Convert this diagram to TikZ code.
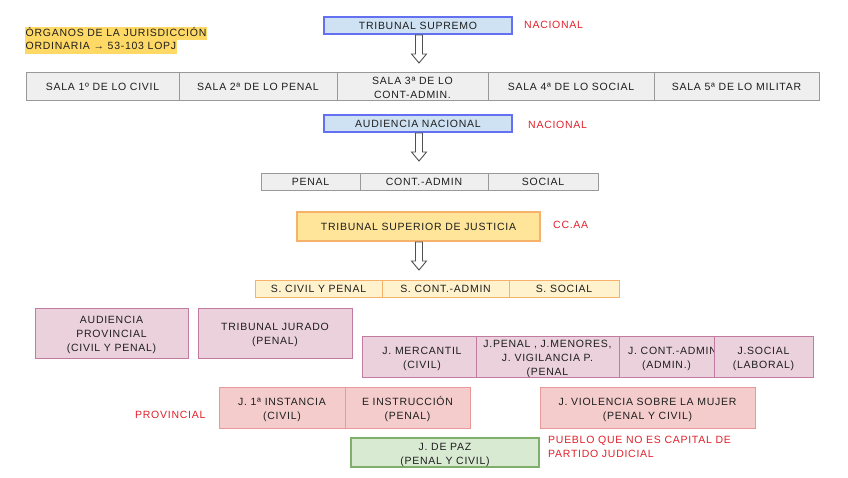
\documentclass[tikz,border=0pt]{standalone}
\usepackage{fontspec}
\setmainfont{Liberation Sans}[LetterSpace=7]
\definecolor{txt}{HTML}{1E1E1E}
\definecolor{redtxt}{HTML}{E0202A}
\definecolor{blueFill}{HTML}{CFE2F3}
\definecolor{blueLine}{HTML}{6470F2}
\definecolor{grayFill}{HTML}{EFEFEF}
\definecolor{grayLine}{HTML}{999999}
\definecolor{tsjFill}{HTML}{FFE599}
\definecolor{orangeLine}{HTML}{F6B26B}
\definecolor{ylwFill}{HTML}{FFF2CC}
\definecolor{pinkFill}{HTML}{EAD1DC}
\definecolor{pinkLine}{HTML}{C27BA0}
\definecolor{roseFill}{HTML}{F4CCCC}
\definecolor{roseLine}{HTML}{EA9999}
\definecolor{greenFill}{HTML}{D9EAD3}
\definecolor{greenLine}{HTML}{7FB06A}
\definecolor{hiFill}{HTML}{FFD966}
\definecolor{arrowLine}{HTML}{505050}
\newcommand{\boxfont}{\fontsize{10.5}{14}\selectfont}
\tikzset{
  box/.style={draw, inner sep=0pt, outer sep=0pt, anchor=north west, line width=0.9pt},
  boxtext/.style={inner sep=0pt, align=center, font=\boxfont, text=txt},
  bluebox/.style={box, fill=blueFill, draw=blueLine, line width=1.2pt},
  graybox/.style={box, fill=grayFill, draw=grayLine},
  tsjbox/.style={box, fill=tsjFill, draw=orangeLine, line width=1.2pt},
  ylwbox/.style={box, fill=ylwFill, draw=orangeLine},
  pinkbox/.style={box, fill=pinkFill, draw=pinkLine},
  rosebox/.style={box, fill=roseFill, draw=roseLine},
  greenbox/.style={box, fill=greenFill, draw=greenLine, line width=1.1pt},
  redlab/.style={font=\boxfont, text=redtxt, inner sep=0pt, anchor=west},
  hilab/.style={font=\boxfont, text=txt, fill=hiFill, inner xsep=0.5pt, inner ysep=0pt, text height=8.5pt, text depth=2.5pt, minimum height=13.5pt, anchor=north west},
  hollowdown/.pic={\draw[draw=arrowLine, fill=white, line width=0.9pt, line join=miter]
     (-3.5,0) -- (-3.5,19) -- (-7.5,19) -- (0,28) -- (7.5,19) -- (3.5,19) -- (3.5,0) -- cycle;}
}
% multi-line box: #1 style, #2 name, #3 position, #4 width, #5 height, #6 text
\newcommand{\cbox}[6]{%
  \node[#1, minimum width=#4, minimum height=#5] (#2) at (#3) {};
  \node[boxtext, yshift=-2pt] (#2t) at (#2.center) {#6};}
% one-line box
\newcommand{\lbox}[6]{%
  \node[#1, minimum width=#4, minimum height=#5] (#2) at (#3) {};
  \node[boxtext, yshift=-0.6pt] (#2t) at (#2.center) {#6};}
\begin{document}
\begin{tikzpicture}[x=1pt,y=-1pt]
\path[use as bounding box] (0,0) rectangle (848,477);

% title label
\node[hilab] (org1) at (25,26.5) {ÓRGANOS DE LA JURISDICCIÓN};
\node[hilab] (org2) at (25,40) {ORDINARIA → 53-103 LOPJ};

% Tribunal Supremo
\lbox{bluebox}{ts}{324,17}{188}{17}{TRIBUNAL SUPREMO}
\node[redlab] (nac1) at (524,25) {NACIONAL};
\pic at (419,35) {hollowdown};
\lbox{graybox}{s1}{26,72}{153}{28}{SALA 1º DE LO CIVIL}
\lbox{graybox}{s2}{179,72}{158}{28}{SALA 2ª DE LO PENAL}
\cbox{graybox}{s3}{337,72}{151}{28}{SALA 3ª DE LO\\CONT-ADMIN.}
\lbox{graybox}{s4}{488,72}{166}{28}{SALA 4ª DE LO SOCIAL}
\lbox{graybox}{s5}{654,72}{165}{28}{SALA 5ª DE LO MILITAR}

% Audiencia Nacional
\lbox{bluebox}{an}{324,115}{188}{17}{AUDIENCIA NACIONAL}
\node[redlab] (nac2) at (528,125) {NACIONAL};
\pic at (419,133) {hollowdown};
\lbox{graybox}{anp}{261,173}{99}{17}{PENAL}
\lbox{graybox}{anc}{360,173}{128}{17}{CONT.-ADMIN}
\lbox{graybox}{ans}{488,173}{110}{17}{SOCIAL}

% TSJ
\lbox{tsjbox}{tsj}{297,212}{243}{29}{TRIBUNAL SUPERIOR DE JUSTICIA}
\node[redlab] (ccaa) at (553,225) {CC.AA};
\pic at (419,242) {hollowdown};
\lbox{ylwbox}{tp}{255,280}{127}{17}{S. CIVIL Y PENAL}
\lbox{ylwbox}{tc}{382,280}{127}{17}{S. CONT.-ADMIN}
\lbox{ylwbox}{tso}{509,280}{110}{17}{S. SOCIAL}

% provincial
\cbox{pinkbox}{ap}{35,308}{153}{50}{AUDIENCIA\\PROVINCIAL\\(CIVIL Y PENAL)}
\cbox{pinkbox}{tj}{198,308}{154}{50}{TRIBUNAL JURADO\\(PENAL)}
\cbox{pinkbox}{jm}{362,336}{114}{41}{\hspace*{6pt}J. MERCANTIL\\\hspace*{6pt}(CIVIL)}
\cbox{pinkbox}{jp}{476,336}{143}{41}{J.PENAL , J.MENORES,\\J. VIGILANCIA P.\\(PENAL}
\cbox{pinkbox}{jc}{619,336}{95}{41}{\hspace*{12pt}J. CONT.-ADMIN\\(ADMIN.)}
\cbox{pinkbox}{js}{714,336}{99}{41}{J.SOCIAL\\(LABORAL)}

\node[redlab] (prov) at (135,415) {PROVINCIAL};
\cbox{rosebox}{j1}{219,387}{126}{41}{J. 1ª INSTANCIA\\(CIVIL)}
\cbox{rosebox}{ji}{345,387}{125}{41}{E INSTRUCCIÓN\\(PENAL)}
\cbox{rosebox}{jv}{540,387}{215}{41}{J. VIOLENCIA SOBRE LA MUJER\\(PENAL Y CIVIL)}

\cbox{greenbox}{jpz}{351,438}{188}{29}{J. DE PAZ\\(PENAL Y CIVIL)}
\node[redlab, anchor=north west, align=left] (pueblo) at (548,436) {PUEBLO QUE NO ES CAPITAL DE\\PARTIDO JUDICIAL};
\end{tikzpicture}
\end{document}
